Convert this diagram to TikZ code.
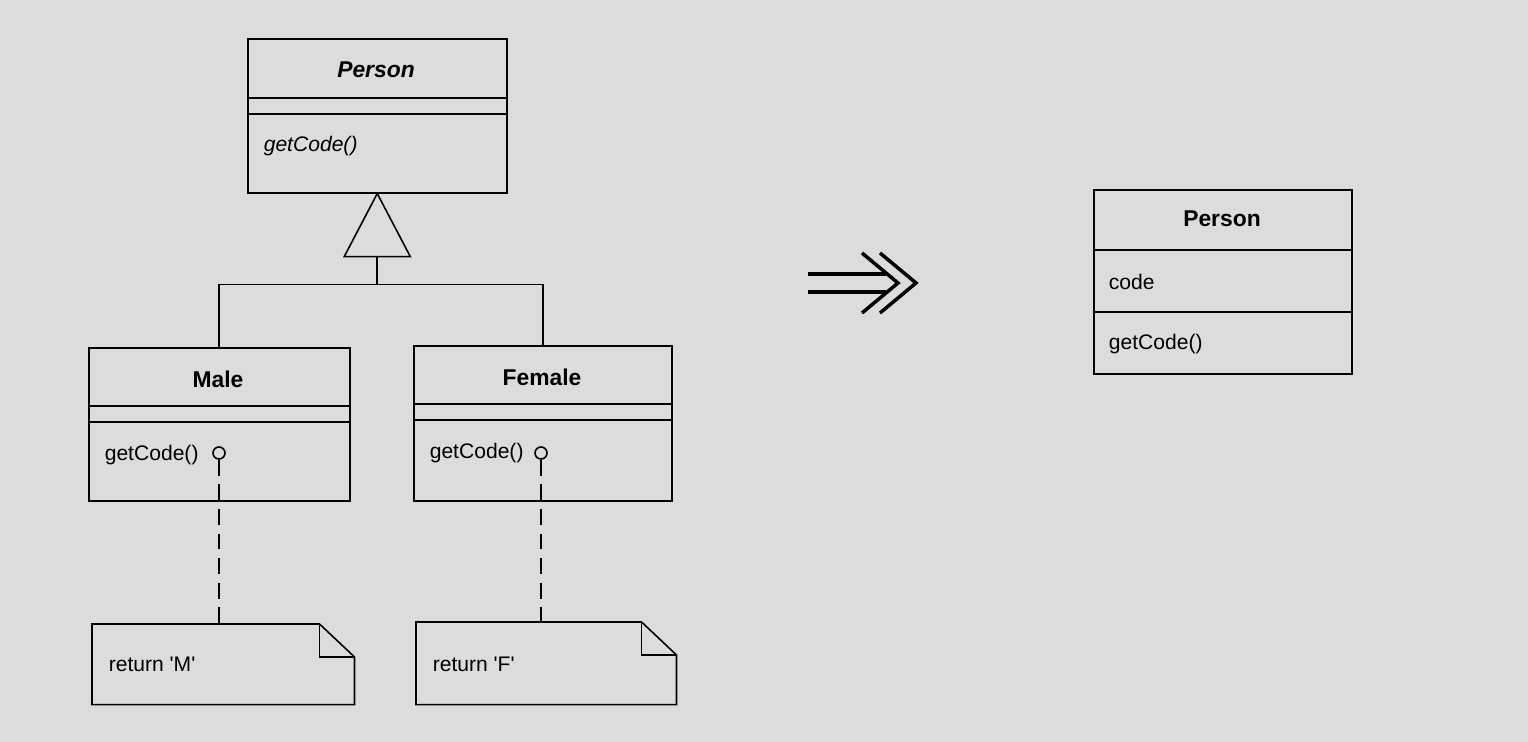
\documentclass[tikz,border=0pt]{standalone}
\usepackage{fontspec}
\setmainfont{Liberation Sans}
\usetikzlibrary{calc}

\definecolor{bggray}{RGB}{220,220,220}

\tikzset{
  classbox/.style={draw, inner sep=0pt, anchor=north west},
  clsname/.style={font=\fontsize{13}{15}\selectfont\bfseries},
  member/.style={anchor=west, inner sep=0pt},
  notebox/.style={inner sep=0pt, anchor=north west},
  knob/.style={circle, draw, inner sep=0pt, minimum size=0.24cm},
  noteline/.style={dash pattern=on 9pt off 5pt},
}

\begin{document}
\fontsize{12}{14}\selectfont
\begin{tikzpicture}[x=0.02cm,y=-0.02cm,line width=0.9pt]
  \fill[bggray] (0,0) rectangle (1528,742);

  % abstract person with subclasses
  \node[classbox, minimum width=5.18cm, minimum height=3.08cm] (person) at (247,38) {};
  \draw (247,98) -- (506,98);
  \draw (247,114) -- (506,114);
  \node[clsname, font=\fontsize{13}{15}\selectfont\bfseries\itshape] (pname) at (376,70) {Person};
  \node[member, font=\itshape] (pop) at (263,146) {getCode()};

  \node[classbox, minimum width=5.22cm, minimum height=3.06cm] (male) at (88,347) {};
  \draw (88,406) -- (349,406);
  \draw (88,422) -- (349,422);
  \node[clsname] (mname) at (218,379) {Male};
  \node[member] (mop) at (104,455) {getCode()};
  \node[knob] (mknob) at (219,453) {};

  \node[classbox, minimum width=5.16cm, minimum height=3.1cm] (female) at (413,345) {};
  \draw (413,404) -- (671,404);
  \draw (413,420) -- (671,420);
  \node[clsname] (fname) at (542,377) {Female};
  \node[member] (fop) at (429,453) {getCode()};
  \node[knob] (fknob) at (541,453) {};

  % generalization
  \draw (person.south) -- ++(33,63) -- ++(-66,0) -- cycle;
  \coordinate (tribase) at ($(person.south)+(0,63)$);
  \coordinate (join) at ($(tribase)+(0,28)$);
  \draw (tribase) -- (join);
  \draw (male.north) |- (join) -| (female.north);

  % notes
  \node[notebox, minimum width=5.22cm, minimum height=1.58cm] (mnote) at (92,624) {};
  \draw (mnote.north west) -- ($(mnote.north east)+(-35,0)$) -- ($(mnote.north east)+(0,33)$)
    -- (mnote.south east) -- (mnote.south west) -- cycle;
  \draw ($(mnote.north east)+(-35,0)$) |- ($(mnote.north east)+(0,33)$);
  \node[member] (mtext) at (108,664) {return \textquotesingle M\textquotesingle};

  \node[notebox, minimum width=5.18cm, minimum height=1.62cm] (fnote) at (416,622) {};
  \draw (fnote.north west) -- ($(fnote.north east)+(-35,0)$) -- ($(fnote.north east)+(0,33)$)
    -- (fnote.south east) -- (fnote.south west) -- cycle;
  \draw ($(fnote.north east)+(-35,0)$) |- ($(fnote.north east)+(0,33)$);
  \node[member] (ftext) at (432,664) {return \textquotesingle F\textquotesingle};

  \draw[noteline] (mknob.south) -- (mknob.south |- mnote.north);
  \draw[noteline] (fknob.south) -- (fknob.south |- fnote.north);

  % refactoring arrow
  \draw[line width=2pt] (808,274) -- (886,274) (808,292) -- (886,292);
  \draw[line width=2pt] (862,253) -- (898,283) -- (862,313);
  \draw[line width=2pt] (880,253) -- (916,283) -- (880,313);

  % resulting person
  \node[classbox, minimum width=5.16cm, minimum height=3.68cm] (person2) at (1093,189) {};
  \draw (1093,250) -- (1351,250);
  \draw (1093,312) -- (1351,312);
  \node[clsname] (p2name) at (1222,219) {Person};
  \node[member] (p2attr) at (1108,282) {code};
  \node[member] (p2op) at (1108,344) {getCode()};
\end{tikzpicture}
\end{document}
